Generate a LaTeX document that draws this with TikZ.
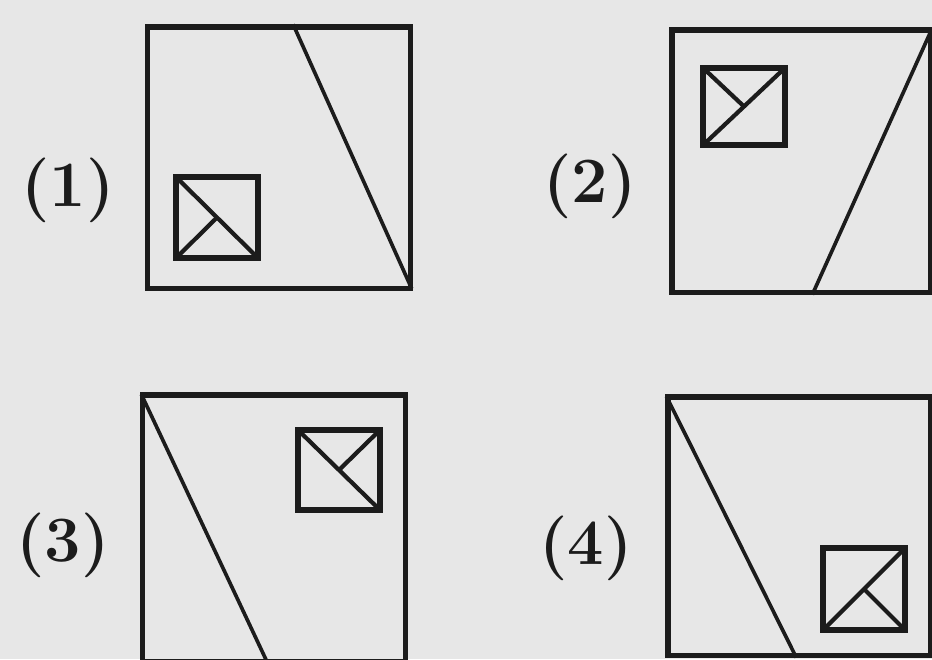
\documentclass[tikz,border=0pt]{standalone}
\usepackage{xcolor}
\definecolor{cPaper}{HTML}{E7E7E7}
\definecolor{cInk}{HTML}{1C1C1C}
\usetikzlibrary{positioning,calc}
\tikzset{
  frame-box/.style={draw=cInk,line width=3.6pt,inner sep=0pt,
    minimum width=6.55cm,minimum height=6.55cm},
  mark-box/.style={draw=cInk,line width=3.6pt,inner sep=0pt,
    minimum width=2.05cm,minimum height=2.05cm},
  cut-line/.style={draw=cInk,line width=2.6pt},
  mark-line/.style={draw=cInk,line width=3pt},
  tag/.style={font=\fontsize{46}{46}\selectfont\bfseries,text=cInk},
}

\begin{document}
\begin{tikzpicture}[x=0.025cm,y=-0.025cm]
  \useasboundingbox (0,0) rectangle (932,659);
  \fill[cPaper] (0,0) rectangle (932,659);
  \clip (0,0) rectangle (932,659);
  % outer frames
  \node[frame-box,minimum height=6.525cm] (b1) at (279,157.5) {};
  \node[frame-box,minimum width=6.45cm] (b2) at (801,161) {};
  \node[frame-box,minimum height=6.65cm] (b3) at (274,528) {};
  \node[frame-box,minimum height=6.45cm] (b4) at (799,526) {};
  % small marked squares
  \node[mark-box,minimum height=2.025cm] (sq1) at (217,217.5) {};
  \node[mark-box,minimum height=1.925cm] (sq2) at (744,106.5) {};
  \node[mark-box,minimum height=2.0cm] (sq3) at (339,470) {};
  \node[mark-box] (sq4) at (864,589) {};
  % labels
  \node[tag] (t1) at (68,190) {(1)};
  \node[tag] (t2) at (590,186) {(2)};
  \node[tag] (t3) at (63,545) {(3)};
  \node[tag] (t4) at (586,548) {(4)};
  % slanted cuts
  \draw[cut-line,shorten >=1.5pt] ($(b1.north west)!0.553!(b1.north east)$) -- (b1.south east);
  \draw[cut-line,shorten >=1.5pt] ($(b2.south west)!0.543!(b2.south east)$) -- (b2.north east);
  \draw[cut-line,shorten <=1.5pt] (b3.north west) -- ($(b3.south west)!0.477!(b3.south east)$);
  \draw[cut-line,shorten <=1.5pt] (b4.north west) -- ($(b4.south west)!0.49!(b4.south east)$);
  % marks inside the small squares
  \draw[mark-line,shorten <=1.5pt,shorten >=1.5pt] (sq1.north west) -- (sq1.south east);
  \draw[mark-line,shorten <=1.5pt] (sq1.south west) -- (sq1.center);
  \draw[mark-line,shorten <=1.5pt,shorten >=1.5pt] (sq2.south west) -- (sq2.north east);
  \draw[mark-line,shorten <=1.5pt] (sq2.north west) -- (sq2.center);
  \draw[mark-line,shorten <=1.5pt,shorten >=1.5pt] (sq3.north west) -- (sq3.south east);
  \draw[mark-line,shorten <=1.5pt] (sq3.north east) -- (sq3.center);
  \draw[mark-line,shorten <=1.5pt,shorten >=1.5pt] (sq4.south west) -- (sq4.north east);
  \draw[mark-line,shorten <=1.5pt] (sq4.south east) -- (sq4.center);
\end{tikzpicture}
\end{document}
